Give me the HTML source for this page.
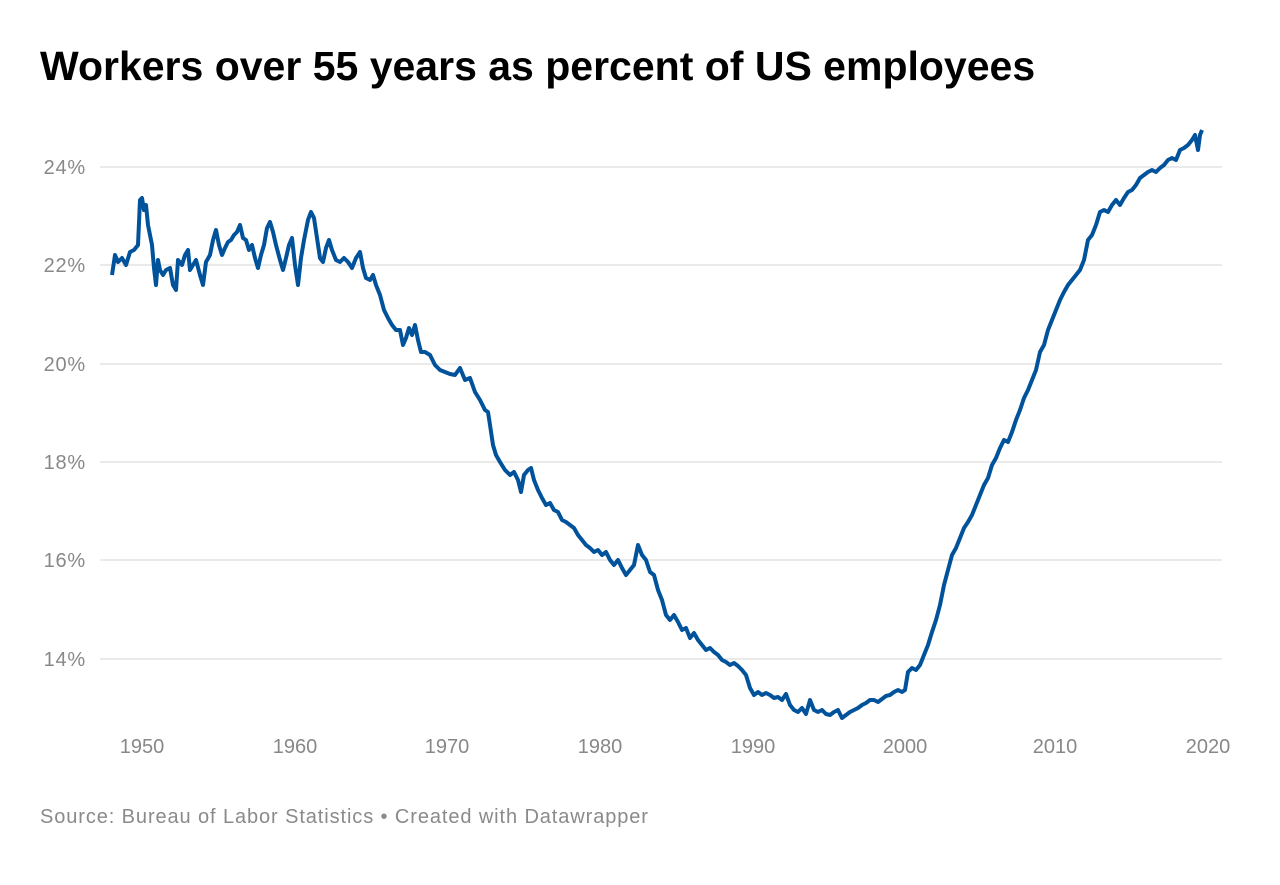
<!DOCTYPE html>
<html><head><meta charset="utf-8"><style>
body{margin:0;background:#fff;width:1280px;height:880px;overflow:hidden;font-family:"Liberation Sans",sans-serif}
</style></head><body>
<svg width="1280" height="880" xmlns="http://www.w3.org/2000/svg" font-family="Liberation Sans, sans-serif">
<text x="40" y="80" font-size="41" font-weight="bold" fill="#000">Workers over 55 years as percent of US employees</text>
<g stroke="#d5d5d5" stroke-width="1">
<line x1="100" x2="1222" y1="167" y2="167"/><line x1="100" x2="1222" y1="265" y2="265"/>
<line x1="100" x2="1222" y1="364" y2="364"/><line x1="100" x2="1222" y1="462" y2="462"/>
<line x1="100" x2="1222" y1="560" y2="560"/><line x1="100" x2="1222" y1="659" y2="659"/>
</g>
<g font-size="20" fill="#888" text-anchor="end" letter-spacing="0.8">
<text x="86" y="174">24%</text><text x="86" y="272">22%</text><text x="86" y="371">20%</text>
<text x="86" y="469">18%</text><text x="86" y="567">16%</text><text x="86" y="666">14%</text>
</g>
<g font-size="20" fill="#888" text-anchor="middle">
<text x="142" y="753">1950</text><text x="295" y="753">1960</text><text x="447" y="753">1970</text>
<text x="600" y="753">1980</text><text x="753" y="753">1990</text><text x="905" y="753">2000</text>
<text x="1055" y="753">2010</text><text x="1208" y="753">2020</text>
</g>
<polyline fill="none" stroke="#00529b" stroke-width="4" stroke-linejoin="round" points="112,275 115,255 118,262 122,258 126,265 130,252 134,250 138,245 140,200 142,198 144,210 146,205 148,225 150,235 152,245 154,268 156,285 158,260 160,270 163,275 166,270 170,268 173,285 176,290 178,260 182,265 185,255 188,250 190,270 193,265 196,260 200,275 203,285 206,262 210,255 213,240 216,230 219,245 222,255 225,248 228,242 231,240 234,235 237,232 240,225 243,238 246,240 249,250 252,245 255,258 258,268 261,255 264,245 267,228 270,222 273,232 276,245 280,260 283,270 286,258 289,245 292,238 295,265 298,285 301,258 304,240 308,220 311,212 314,218 317,238 320,258 323,262 326,248 329,240 332,250 336,260 340,262 344,258 348,262 352,268 356,258 360,252 363,268 366,278 370,280 373,275 376,285 380,295 384,310 388,318 392,325 396,330 400,330 403,345 406,338 409,328 412,335 415,325 418,340 421,352 425,352 430,355 435,365 440,370 445,372 450,374 455,375 460,368 465,380 470,378 475,392 480,400 485,410 488,412 490,425 493,445 496,455 500,462 505,470 510,475 514,472 518,480 521,492 524,475 528,470 531,468 534,480 538,490 542,498 546,505 550,503 554,510 558,512 562,520 566,522 570,525 574,528 578,535 582,540 586,545 590,548 594,552 598,550 602,555 606,552 610,560 614,565 618,560 622,568 626,575 630,570 634,565 638,545 642,555 646,560 650,572 654,575 658,590 662,600 666,615 670,620 674,615 678,622 682,630 686,628 690,638 694,633 698,640 702,645 706,650 710,648 714,652 718,655 722,660 726,662 730,665 734,663 738,666 742,670 746,675 750,688 754,695 758,692 762,695 766,693 770,695 774,698 778,697 782,700 786,694 790,705 794,710 798,712 802,708 806,714 810,700 814,710 818,712 822,710 826,714 830,715 834,712 838,710 842,718 846,715 850,712 854,710 858,708 862,705 866,703 870,700 874,700 878,702 882,699 886,696 890,695 894,692 898,690 902,692 905,690 908,672 912,668 916,670 920,665 924,655 928,645 932,632 936,620 940,605 944,585 948,570 952,555 956,548 960,538 964,528 968,522 972,515 976,505 980,495 984,485 988,478 992,465 996,458 1000,448 1004,440 1008,442 1012,432 1016,420 1020,410 1024,398 1028,390 1032,380 1036,370 1040,352 1044,345 1048,330 1052,320 1056,310 1060,300 1064,292 1068,285 1072,280 1076,275 1080,270 1084,260 1088,240 1092,235 1096,225 1100,212 1104,210 1108,212 1112,205 1116,200 1120,205 1124,198 1128,192 1132,190 1136,185 1140,178 1144,175 1148,172 1152,170 1156,172 1160,168 1164,165 1168,160 1172,158 1176,160 1180,150 1184,148 1188,145 1192,140 1195,135 1198,150 1200,135 1202,130"/>
<text x="40" y="823" font-size="20" fill="#8a8a8a" letter-spacing="0.9">Source: Bureau of Labor Statistics • Created with Datawrapper</text>
</svg>
</body></html>
